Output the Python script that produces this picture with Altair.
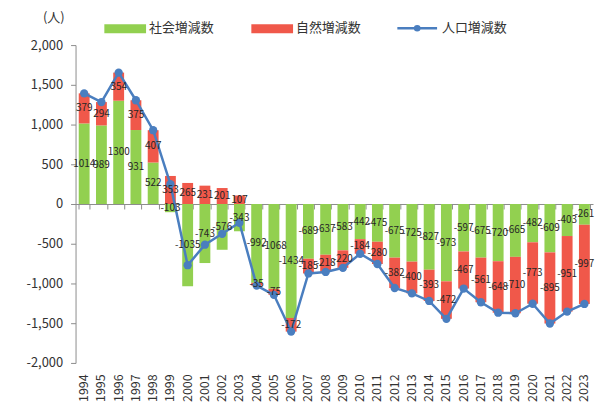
import altair as alt
import pandas as pd

years = [str(y) for y in range(1994, 2024)]
social = [1014, 989, 1300, 931, 522, -103, -1035, -743, -576, -343,
          -992, -1068, -1434, -689, -637, -583, -442, -475, -675, -725,
          -827, -973, -597, -675, -720, -665, -482, -609, -403, -261]
natural = [379, 294, 354, 375, 407, 353, 265, 231, 201, 107,
           -35, -75, -172, -185, -218, -220, -184, -280, -382, -400,
           -393, -472, -467, -561, -648, -710, -773, -895, -951, -997]
total = [s + n for s, n in zip(social, natural)]

series_names = ["社会増減数", "自然増減数", "人口増減数"]
colors = ["#92D050", "#F0584A", "#4A7EBF"]
y_ticks = [-2000, -1500, -1000, -500, 0, 500, 1000, 1500, 2000]

n = len(years)
long = pd.DataFrame({
    "year": years * 2,
    "series": [series_names[0]] * n + [series_names[1]] * n,
    "value": social + natural,
    "order": [0] * n + [1] * n,
})
line_df = pd.DataFrame({"year": years, "total": total})

W, H = 521, 320
FONT = "Noto Sans CJK JP"
TXT = "#333333"
AX = "#8C8C8C"

xscale = alt.Scale(paddingInner=0.37, paddingOuter=0.185)
yscale = alt.Scale(domain=[-2000, 2000], nice=False)
yaxis = alt.Axis(
    values=y_ticks, format=",.0f", labelExpr="replace(datum.label, '\u2212', '-')",
    title=None, grid=False, domainColor=AX, tickColor=AX, tickSize=5,
    labelFontSize=13, labelPadding=8, labelColor=TXT, labelFont=FONT)

base = alt.Chart(long).transform_stack(
    stack="value", as_=["v0", "v1"], groupby=["year"],
    sort=[alt.SortField("order", "ascending")], offset="zero"
)

bars = base.mark_bar().encode(
    x=alt.X("year:O", scale=xscale, axis=alt.Axis(
        title=None, labelAngle=-90, domain=False, ticks=False, labelPadding=11,
        labelFontSize=12.5, labelColor=TXT, labelFont=FONT)),
    y=alt.Y("v0:Q", scale=yscale, axis=yaxis),
    y2="v1:Q",
    color=alt.Color("series:N", scale=alt.Scale(domain=series_names[:2], range=colors[:2]), legend=None),
)

line = alt.Chart(line_df).mark_line(
    color=colors[2], strokeWidth=2.5,
    point=alt.OverlayMarkDef(color=colors[2], size=70, filled=True, opacity=1)
).encode(
    x=alt.X("year:O", axis=alt.Axis(title=None, labels=False, orient="bottom", offset=-160,
                                    tickBand="extent", domainColor=AX, tickColor=AX, tickSize=5)),
    y=alt.Y("total:Q", scale=yscale, axis=yaxis),
)

labels = base.transform_calculate(
    mid="(datum.v0 + datum.v1) / 2", lbl="'' + datum.value"
).mark_text(
    fontSize=10, font=FONT, color="#262626"
).encode(
    x=alt.X("year:O", axis=None),
    y=alt.Y("mid:Q", scale=yscale, axis=yaxis),
    text=alt.Text("lbl:N"),
)

one = pd.DataFrame({"k": [0]})


def swatch(x1, x2, color):
    return alt.Chart(one).mark_rect(color=color).encode(
        x=alt.value(x1), x2=alt.value(x2), y=alt.value(-21), y2=alt.value(-12))


def ltext(x, s, align="left"):
    return alt.Chart(one).mark_text(text=s, align=align, baseline="middle", fontSize=13,
                                    font=FONT, color=TXT).encode(x=alt.value(x), y=alt.value(-17))


leg_line = alt.Chart(one).mark_rule(color=colors[2], strokeWidth=2.5).encode(
    x=alt.value(324), x2=alt.value(364), y=alt.value(-17))
leg_pt = alt.Chart(one).mark_point(color=colors[2], filled=True, size=45, opacity=1).encode(
    x=alt.value(344), y=alt.value(-17))
unit = alt.Chart(one).mark_text(text="(人)", align="center", baseline="middle", fontSize=13,
                                font=FONT, color=TXT).encode(x=alt.value(-22), y=alt.value(-27))

chart = alt.layer(
    bars, line, labels,
    swatch(29, 71, colors[0]), ltext(74, series_names[0]),
    swatch(177, 219, colors[1]), ltext(222, series_names[1]),
    leg_line, leg_pt, ltext(369, series_names[2]),
    unit,
).resolve_axis(x="independent").properties(
    width=W, height=H,
    padding={"left": 68, "top": 36, "right": 2, "bottom": 39},
    autosize=alt.AutoSizeParams(type="none"),
).configure_view(stroke=None)

chart.save("out.html", embed_options={"renderer": "svg", "actions": False})
